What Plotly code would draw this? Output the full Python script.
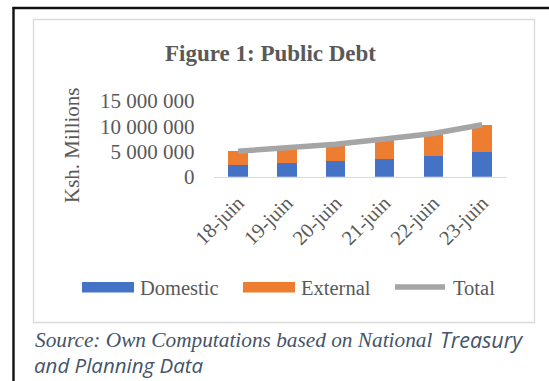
import plotly.graph_objects as go

# Public debt stock, Ksh millions, end of June each year
periods = ["18-juin", "19-juin", "20-juin", "21-juin", "22-juin", "23-juin"]
domestic = [2400000, 2700000, 3100000, 3600000, 4200000, 4800000]
external = [2650000, 3000000, 3350000, 3850000, 4350000, 5500000]
total = [5050000, 5700000, 6450000, 7450000, 8550000, 10300000]
y_ticks = [0, 5000000, 10000000, 15000000]

W, H = 549, 381
BLUE, ORANGE, GREY = "#4472C4", "#ED7D31", "#A5A5A5"
TXT = "#595959"
SERIF = "Liberation Serif, Times New Roman, serif"


def px(x):
    return x / W


def py(y):
    return 1 - y / H


fig = go.Figure()
fig.add_trace(go.Bar(x=periods, y=domestic, name="Domestic",
                     marker=dict(color=BLUE, line=dict(width=0))))
fig.add_trace(go.Bar(x=periods, y=external, name="External",
                     marker=dict(color=ORANGE, line=dict(width=0))))
fig.add_trace(go.Scatter(x=periods, y=total, name="Total", mode="lines",
                         line=dict(color=GREY, width=5.5)))

shapes = [
    # outer frame
    dict(type="line", xref="paper", yref="paper", x0=px(13.5), x1=px(13.5),
         y0=py(7), y1=py(400), line=dict(color="#111111", width=2.4)),
    dict(type="line", xref="paper", yref="paper", x0=px(12.5), x1=px(560),
         y0=py(8), y1=py(8), line=dict(color="#111111", width=2.4)),
    # chart box
    dict(type="rect", xref="paper", yref="paper", x0=px(33.5), x1=px(534.5),
         y0=py(19.5), y1=py(322.5), line=dict(color="#D9D9D9", width=1.3)),
    # legend swatches
    dict(type="rect", xref="paper", yref="paper", x0=px(82), x1=px(134),
         y0=py(282), y1=py(292.5), fillcolor=BLUE, line=dict(width=0)),
    dict(type="rect", xref="paper", yref="paper", x0=px(243), x1=px(295),
         y0=py(282), y1=py(292.5), fillcolor=ORANGE, line=dict(width=0)),
    dict(type="line", xref="paper", yref="paper", x0=px(395), x1=px(445),
         y0=py(287), y1=py(287), line=dict(color=GREY, width=5.5)),
]

annotations = [
    dict(text="<b>Figure 1: Public Debt</b>", x=px(270.5), y=py(53),
         font=dict(family=SERIF, size=23, color=TXT)),
    dict(text="Ksh. Millions", x=px(72), y=py(145), textangle=-90,
         font=dict(family=SERIF, size=21, color=TXT)),
    dict(text="Domestic", x=px(138), y=py(288), xanchor="left",
         font=dict(family=SERIF, size=20.5, color=TXT)),
    dict(text="External", x=px(299), y=py(288), xanchor="left",
         font=dict(family=SERIF, size=20.5, color=TXT)),
    dict(text="Total", x=px(450.5), y=py(288), xanchor="left",
         font=dict(family=SERIF, size=20.5, color=TXT)),
    dict(text="<i>Source: Own Computations based on National</i>",
         x=px(33), y=py(340), xanchor="left",
         font=dict(family=SERIF, size=21.3, color="#44546A")),
    dict(text="<i>Treasury</i>", x=px(438), y=py(339), xanchor="left",
         font=dict(family="Open Sans, sans-serif", size=21.5, color="#44546A")),
    dict(text="<i>and Planning Data</i>", x=px(32), y=py(365), xanchor="left",
         font=dict(family="Open Sans, sans-serif", size=20.5, color="#44546A")),
]
for a in annotations:
    a.update(xref="paper", yref="paper", showarrow=False,
             xanchor=a.get("xanchor", "center"), yanchor="middle")

fig.update_layout(
    width=W, height=H,
    margin=dict(l=0, r=0, t=0, b=0),
    paper_bgcolor="white", plot_bgcolor="white",
    barmode="stack", bargap=0.6,
    showlegend=False,
    separators=". ",
    shapes=shapes, annotations=annotations,
    xaxis=dict(domain=[px(213.6), px(506.6)], type="category",
               showline=True, linecolor="#D9D9D9", linewidth=1.2,
               showgrid=False, zeroline=False, ticks="",
               tickangle=-45, ticklabelstandoff=5,
               tickfont=dict(family=SERIF, size=20.5, color=TXT),
               automargin=False, fixedrange=True),
    yaxis=dict(domain=[py(176.7), py(101)], range=[0, 15000000],
               tickvals=y_ticks, tickformat=",d",
               showline=False, showgrid=False, zeroline=False, ticks="",
               ticklabelstandoff=18,
               tickfont=dict(family=SERIF, size=21, color=TXT),
               automargin=False, fixedrange=True),
)

fig.write_html("out.html")
